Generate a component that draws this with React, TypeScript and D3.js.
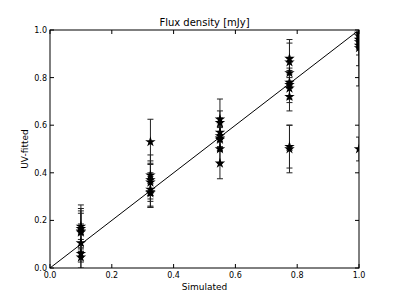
import React from "react";
import * as d3 from "d3";

const xTicks = [0.0, 0.2, 0.4, 0.6, 0.8, 1.0];
const yTicks = [0.0, 0.2, 0.4, 0.6, 0.8, 1.0];

const simX = [0.1, 0.325, 0.55, 0.775, 1.0];
const fitY: number[][] = [
  [0.175, 0.165, 0.155, 0.15, 0.105, 0.06, 0.045],
  [0.53, 0.39, 0.37, 0.36, 0.33, 0.32, 0.315],
  [0.625, 0.61, 0.57, 0.555, 0.545, 0.54, 0.5, 0.44],
  [0.88, 0.865, 0.82, 0.78, 0.77, 0.755, 0.72, 0.51, 0.5],
  [0.985, 0.975, 0.96, 0.95, 0.935, 0.925, 0.5],
];
const fitErr: number[][] = [
  [0.09, 0.085, 0.085, 0.08, 0.08, 0.06, 0.05],
  [0.095, 0.085, 0.08, 0.08, 0.07, 0.065, 0.06],
  [0.085, 0.05, 0.06, 0.06, 0.05, 0.05, 0.06, 0.065],
  [0.08, 0.08, 0.06, 0.06, 0.06, 0.06, 0.06, 0.09, 0.1],
  [0.02, 0.03, 0.03, 0.1, 0.17, 0.03, 0.05],
];

const W = 399;
const H = 299;
const L = 50, R = 359, T = 30, B = 268;

export default function App() {
  const x = d3.scaleLinear().domain([0, 1]).range([L, R]);
  const y = d3.scaleLinear().domain([0, 1]).range([B, T]);
  const star = d3.symbol().type(d3.symbolStar).size(34)() as string;
  const font = "DejaVu Sans, sans-serif";
  const line = d3.line<number>().x((d) => x(d)).y((d) => y(d));

  const pts: { sx: number; fy: number; e: number }[] = [];
  simX.forEach((sx, i) => fitY[i].forEach((fy, j) => pts.push({ sx, fy, e: fitErr[i][j] })));

  return (
    <svg width={W} height={H} style={{ position: "absolute", left: 0, top: 0 }}>
      <rect width={W} height={H} fill="#fff" />
      <defs>
        <clipPath id="plot">
          <rect x={L} y={T} width={R - L} height={B - T} />
        </clipPath>
      </defs>
      <g clipPath="url(#plot)">
        <path d={line([0, 1]) as string} stroke="#000" strokeWidth={1} fill="none" />
        {pts.map((p, k) => (
          <g key={"e" + k} stroke="#222" strokeWidth={1}>
            <line x1={x(p.sx)} x2={x(p.sx)} y1={y(p.fy - p.e)} y2={y(p.fy + p.e)} />
            <line x1={x(p.sx) - 3} x2={x(p.sx) + 3} y1={y(p.fy - p.e)} y2={y(p.fy - p.e)} />
            <line x1={x(p.sx) - 3} x2={x(p.sx) + 3} y1={y(p.fy + p.e)} y2={y(p.fy + p.e)} />
          </g>
        ))}
        {pts.map((p, k) => (
          <path key={"s" + k} d={star} transform={`translate(${x(p.sx)},${y(p.fy)})`} fill="#000" />
        ))}
      </g>
      <rect x={L} y={T} width={R - L} height={B - T} fill="none" stroke="#000" strokeWidth={1} />
      {xTicks.map((t) => (
        <g key={"x" + t}>
          <line x1={x(t)} x2={x(t)} y1={B} y2={B - 4} stroke="#000" />
          <line x1={x(t)} x2={x(t)} y1={T} y2={T + 4} stroke="#000" />
          <text x={x(t)} y={B + 10} fontSize={8} fontFamily={font} textAnchor="middle">
            {t.toFixed(1)}
          </text>
        </g>
      ))}
      {yTicks.map((t) => (
        <g key={"y" + t}>
          <line x1={L} x2={L + 4} y1={y(t)} y2={y(t)} stroke="#000" />
          <line x1={R} x2={R - 4} y1={y(t)} y2={y(t)} stroke="#000" />
          <text x={L - 3} y={y(t) + 3} fontSize={8} fontFamily={font} textAnchor="end">
            {t.toFixed(1)}
          </text>
        </g>
      ))}
      <text x={(L + R) / 2} y={26} fontSize={10} fontFamily={font} textAnchor="middle">
        Flux density [mJy]
      </text>
      <text x={(L + R) / 2} y={290} fontSize={9} fontFamily={font} textAnchor="middle">
        Simulated
      </text>
      <text
        transform={`translate(28,${(T + B) / 2}) rotate(-90)`}
        fontSize={9}
        fontFamily={font}
        textAnchor="middle"
      >
        UV-fitted
      </text>
    </svg>
  );
}
